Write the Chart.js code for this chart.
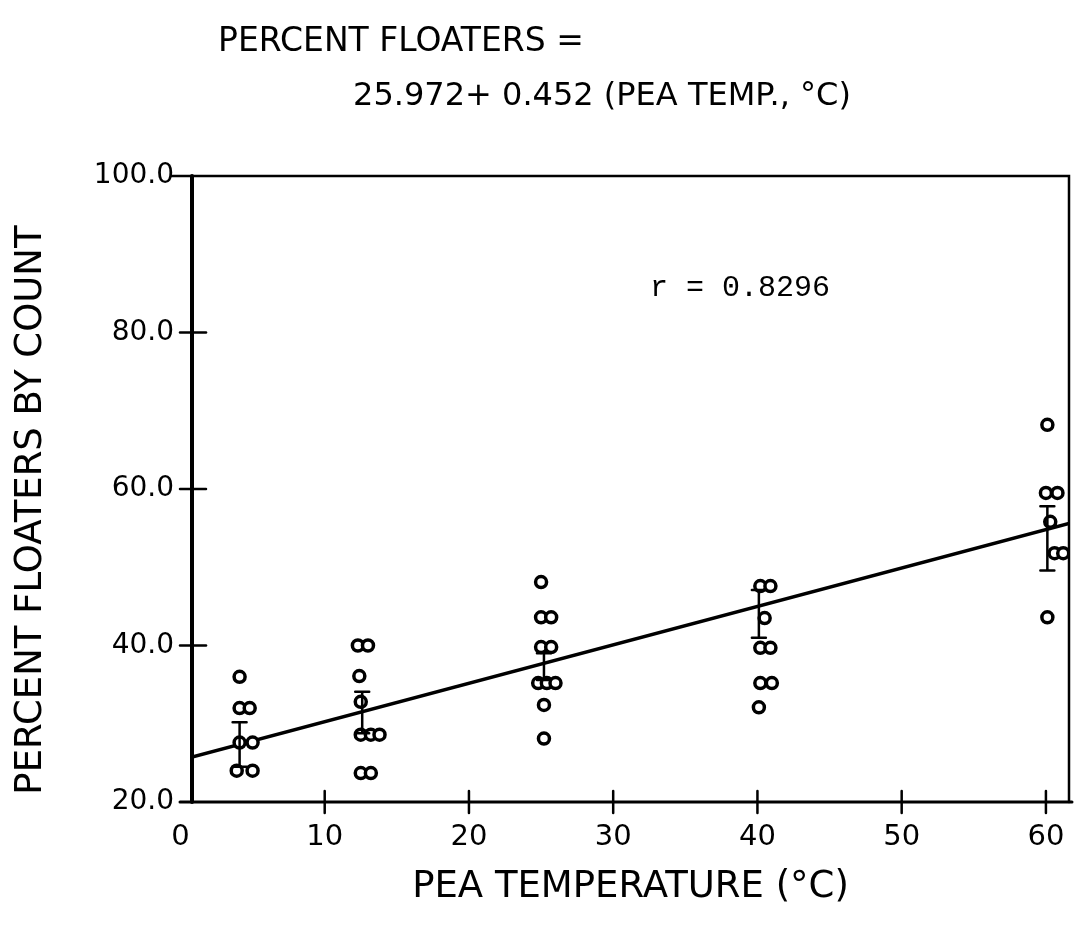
<!DOCTYPE html>
<html>
<head>
<meta charset="utf-8">
<script src="https://cdn.jsdelivr.net/npm/chart.js@4"></script>
<style>
  body { margin: 0; background: #fff; }
  #wrap { width: 1078px; height: 936px; }
</style>
</head>
<body>
<div id="wrap"><canvas id="chart"></canvas></div>
<script>
const peaTemp = [
  4.1, 4.1, 4.8, 4.1, 5.0, 3.9, 5.0,
  12.3, 13.0, 12.4, 12.5, 12.5, 13.2, 13.8, 12.5, 13.2,
  25.0, 25.0, 25.7, 25.0, 25.7, 24.8, 25.4, 26.0, 25.2, 25.2,
  40.2, 40.9, 40.5, 40.2, 40.9, 40.2, 41.0, 40.1,
  60.1, 60.0, 60.8, 60.3, 60.6, 61.2, 60.1
];
const pctFloaters = [
  36.0, 32.0, 32.0, 27.6, 27.6, 24.0, 24.0,
  40.0, 40.0, 36.1, 32.8, 28.6, 28.6, 28.6, 23.7, 23.7,
  48.1, 43.6, 43.6, 39.8, 39.8, 35.2, 35.2, 35.2, 32.4, 28.1,
  47.6, 47.6, 43.5, 39.7, 39.7, 35.2, 35.2, 32.1,
  68.2, 59.5, 59.5, 55.8, 51.8, 51.8, 43.6
];

// error bars per temperature group
const barTemp = [4.1, 12.6, 25.2, 40.1, 60.1];
const barLow = [24.5, 28.8, 35.6, 41.0, 49.6];
const barHigh = [30.2, 34.1, 39.0, 47.1, 57.8];

// fitted line as drawn
const fitTemp = [0.8, 61.6];
const fitPct = [25.75, 55.6];

const xTicks = [0, 10, 20, 30, 40, 50, 60];
const yTicks = [20, 40, 60, 80, 100];

const font = "'DejaVu Sans', sans-serif";

const frame = {
  id: "frame",
  afterDraw(chart) {
    const c = chart.ctx;
    const a = chart.chartArea;
    const xs = chart.scales.x, ys = chart.scales.y;
    c.save();
    c.strokeStyle = "#000";
    c.lineCap = "round";

    // error bars
    c.lineWidth = 2.5;
    barTemp.forEach((t, i) => {
      const px = xs.getPixelForValue(t);
      const lo = ys.getPixelForValue(barLow[i]);
      const hi = ys.getPixelForValue(barHigh[i]);
      c.beginPath();
      c.moveTo(px, lo); c.lineTo(px, hi);
      c.moveTo(px - 7, lo); c.lineTo(px + 7, lo);
      c.moveTo(px - 7, hi); c.lineTo(px + 7, hi);
      c.stroke();
    });

    // box
    c.lineWidth = 2.5;
    c.beginPath();
    c.moveTo(a.left - 20, a.top); c.lineTo(a.right, a.top);
    c.lineTo(a.right, a.bottom);
    c.stroke();
    c.lineWidth = 4;
    c.beginPath();
    c.moveTo(a.left, a.top); c.lineTo(a.left, a.bottom);
    c.stroke();
    c.lineWidth = 3;
    c.beginPath();
    c.moveTo(a.left - 12, a.bottom); c.lineTo(a.right + 3, a.bottom);
    c.stroke();

    // tick marks crossing the axes
    c.lineWidth = 2.5;
    xTicks.slice(1).forEach(v => {
      const px = xs.getPixelForValue(v);
      c.beginPath(); c.moveTo(px, a.bottom - 11); c.lineTo(px, a.bottom + 11); c.stroke();
    });
    yTicks.slice(1, -1).forEach(v => {
      const py = ys.getPixelForValue(v);
      c.beginPath(); c.moveTo(a.left - 12, py); c.lineTo(a.left + 14, py); c.stroke();
    });

    // texts
    c.fillStyle = "#000";
    c.textBaseline = "middle";
    c.font = "33px " + font;
    c.textAlign = "left";
    c.fillText("PERCENT FLOATERS =", 218, 42);
    c.font = "32px " + font;
    c.textAlign = "center";
    c.fillText("25.972+ 0.452 (PEA TEMP., \u00B0C)", 602, 97);
    c.font = "30px 'Liberation Mono', monospace";
    c.textAlign = "left";
    c.fillText("r = 0.8296", 650, 288);

    // y axis title, drawn a little below the axis centre as in the scan
    c.translate(31, 510);
    c.rotate(-Math.PI / 2);
    c.font = "37px " + font;
    c.textAlign = "center";
    c.fillText("PERCENT FLOATERS BY COUNT", 0, 0);
    c.restore();
  }
};

new Chart(document.getElementById("chart"), {
  type: "scatter",
  data: {
    datasets: [
      {
        data: peaTemp.map((t, i) => ({ x: t, y: pctFloaters[i] })),
        pointStyle: "circle",
        pointRadius: 5.5,
        borderWidth: 3.5,
        borderColor: "#000",
        backgroundColor: "#fff"
      },
      {
        type: "line",
        data: fitTemp.map((t, i) => ({ x: t, y: fitPct[i] })),
        borderColor: "#000",
        borderWidth: 3.5,
        pointRadius: 0,
        fill: false
      }
    ]
  },
  options: {
    responsive: true,
    maintainAspectRatio: false,
    animation: false,
    layout: { padding: { top: 176, right: 3, left: 0, bottom: 0 } },
    plugins: { legend: { display: false }, tooltip: { enabled: false } },
    scales: {
      x: {
        type: "linear",
        min: 0.8,
        max: 61.6,
        afterBuildTicks: s => { s.ticks = xTicks.map(v => ({ value: v })); },
        afterFit: s => { s.height = 134; },
        grid: { display: false },
        border: { display: false },
        ticks: { color: "#000", padding: 10, font: { family: font, size: 29 }, callback: v => String(v) },
        title: {
          display: true,
          text: "PEA TEMPERATURE (\u00B0C)",
          color: "#000",
          font: { family: font, size: 37 },
          padding: { top: 0, bottom: 26 }
        }
      },
      y: {
        min: 20,
        max: 100,
        afterBuildTicks: s => { s.ticks = yTicks.map(v => ({ value: v })); },
        afterFit: s => { s.width = 192; },
        grid: { display: false },
        border: { display: false },
        ticks: { color: "#000", padding: 10, font: { family: font, size: 28 }, callback: v => v.toFixed(1) },
        title: { display: false }
      }
    }
  },
  plugins: [frame]
});
</script>
</body>
</html>
